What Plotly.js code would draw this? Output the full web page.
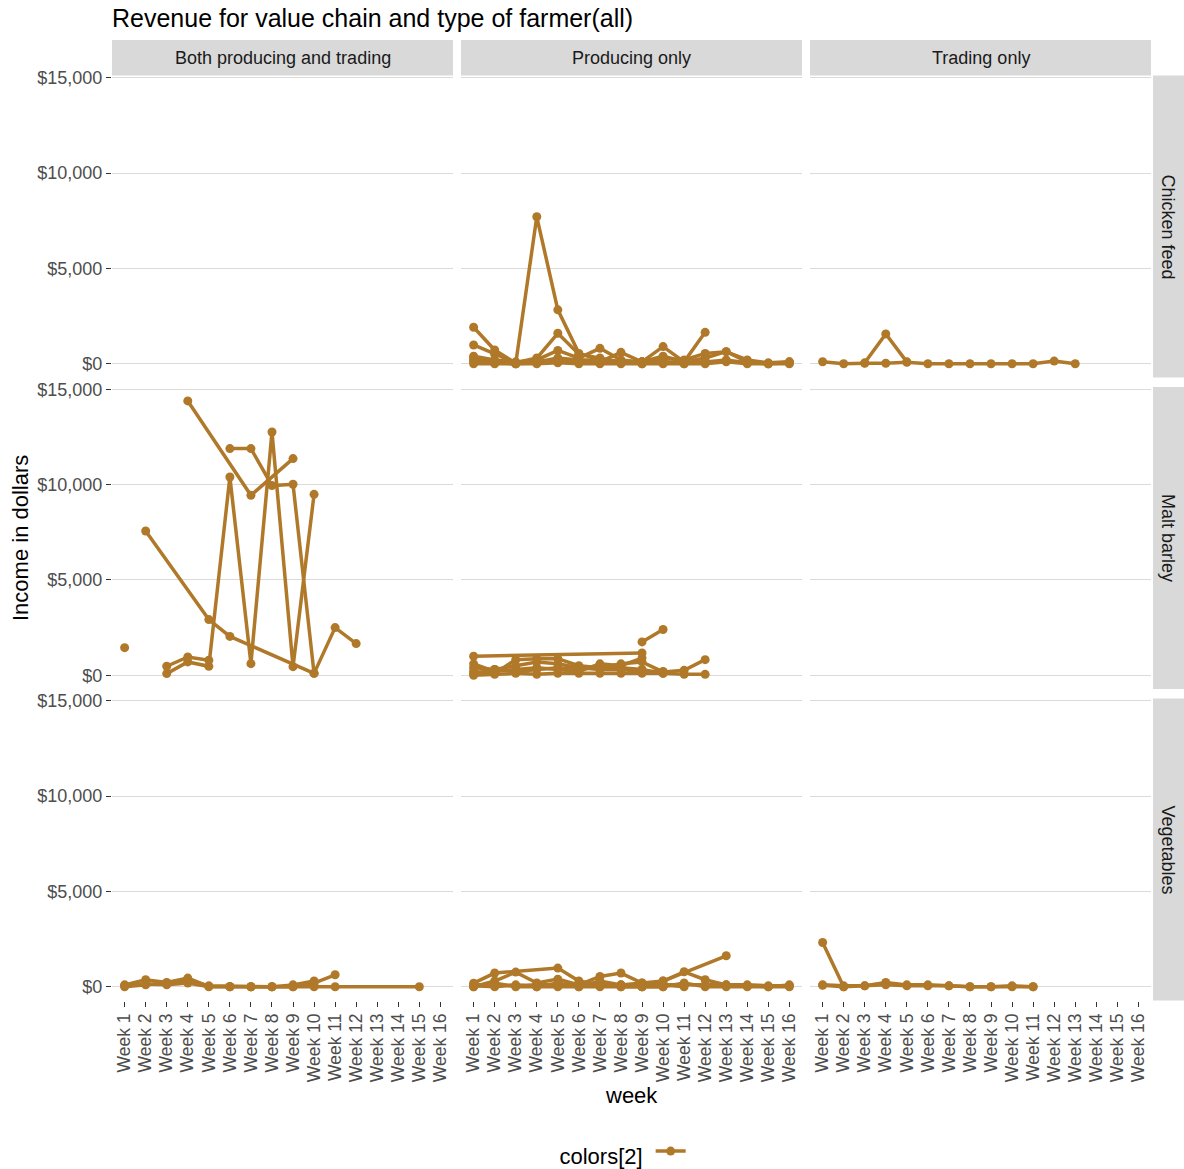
<!DOCTYPE html>
<html>
<head>
<meta charset="utf-8">
<script src="https://cdn.plot.ly/plotly-3.0.1.min.js"></script>
<style>html,body{margin:0;padding:0;background:#fff;}#chart{width:1184px;height:1169px;}</style>
</head>
<body>
<div id="chart"></div>
<script>
// ---------- DATA ----------
const weeks = ["Week 1","Week 2","Week 3","Week 4","Week 5","Week 6","Week 7","Week 8",
               "Week 9","Week 10","Week 11","Week 12","Week 13","Week 14","Week 15","Week 16"];
const farmerTypes = ["Both producing and trading", "Producing only", "Trading only"];
const valueChains = ["Chicken feed", "Malt barley", "Vegetables"];
const yTickVals = [0, 5000, 10000, 15000];
const yTickText = ["$0", "$5,000", "$10,000", "$15,000"];
const n = null;

// Chicken feed
const chickenBoth = [];
const chickenProducing = [
  [1917, 720, 30, n, n, n, n, n, n, n, n, n, n, n, n, n],
  [n, n, 20, 7710, 2830, 545, 200, 100, 50, 20, n, n, n, n, n, n],
  [986, 500, 50, 300, 1600, 500, 300, 100, 0, 100, 0, n, n, n, n, n],
  [400, 200, 100, 200, 700, 300, 810, 200, 100, 400, 100, 300, 634, 100, 0, 100],
  [200, 100, 0, 100, 300, 200, 200, 100, 100, 900, 100, 1650, n, n, n, n],
  [100, 50, 0, 50, 100, 100, 100, 600, 100, 300, 200, 545, 634, 200, 50, 100],
  [0, 0, 0, 0, 50, 0, 0, 0, 0, 0, 0, 0, 100, 0, 0, 0],
  [300, 100, 50, 100, 200, 100, 50, 50, 100, 100, 50, 100, 200, 50, 0, 50]
];
const chickenTrading = [
  [105, 0, 30, 30, 80, 0, 0, 0, 0, 0, 0, 140, 0, n, n, n],
  [n, n, 50, 1568, 100, n, n, n, n, n, n, n, n, n, n, n]
];

// Malt barley
const maltBoth = [
  [1450, n, n, n, n, n, n, n, n, n, n, n, n, n, n, n],
  [n, 7570, n, n, 2920, 2040, n, n, n, 100, n, n, n, n, n, n],
  [n, n, n, 14390, n, n, 9440, n, 11365, n, n, n, n, n, n, n],
  [n, n, n, n, n, 11890, 11890, 9950, 10018, 100, 2500, 1660, n, n, n, n],
  [n, n, 87, 700, 470, 10400, 610, 12760, 450, 9490, n, n, n, n, n, n],
  [n, n, 472, 961, 787, n, n, n, n, n, n, n, n, n, n, n]
];
const maltProducing = [
  [997, n, n, n, n, n, n, n, 1170, n, n, n, n, n, n, n],
  [n, n, n, n, n, n, n, n, 1750, 2400, n, n, n, n, n, n],
  [200, 100, 820, 870, 870, 500, 400, 600, 700, 175, 260, 820, n, n, n, n],
  [100, 300, 200, 300, 400, 300, 500, 400, 300, 100, 50, 50, n, n, n, n],
  [0, 50, 100, 50, 100, 100, 100, 100, 100, 100, n, n, n, n, n, n],
  [400, 300, 500, 700, 600, 400, 300, 300, 200, 200, n, n, n, n, n, n],
  [600, 200, 300, 400, 300, 200, 600, 500, 900, n, n, n, n, n, n, n]
];
const maltTrading = [];

// Vegetables
const vegBoth = [
  [100, 367, 227, 456, 20, 0, 0, 0, 0, 190, 630, n, n, n, n, n],
  [50, 150, 100, 200, 0, 0, 0, 0, 0, 0, 0, n, n, n, 0, n],
  [0, 100, 200, 300, 50, 20, 0, 0, 100, 300, n, n, n, n, n, n]
];
const vegProducing = [
  [190, 720, n, n, 980, 300, 100, 0, 0, 0, n, n, n, n, n, n],
  [0, 300, 770, 200, 400, 100, 540, 720, 200, 100, 0, n, n, n, n, n],
  [n, n, n, n, n, n, n, n, 0, 300, n, n, 1625, n, n, n],
  [100, 100, 50, 100, 100, 100, 100, 100, 100, 100, 100, 100, 100, 100, 50, 50],
  [50, 0, 100, 0, 200, 0, 300, 100, 200, 300, 786, 370, 100, 50, 0, 0],
  [0, 200, 0, 0, 0, 0, 0, 0, 0, 0, 200, 0, 0, 0, 0, 100]
];
const vegTrading = [
  [2325, 0, n, n, n, n, n, n, n, n, n, n, n, n, n, n],
  [100, 50, 50, 227, 100, 100, 50, 0, 0, 0, 0, n, n, n, n, n],
  [80, 0, 50, 100, 50, 50, 50, 0, 0, 50, 0, n, n, n, n, n]
];

const panels = [
  [chickenBoth, chickenProducing, chickenTrading],
  [maltBoth, maltProducing, maltTrading],
  [vegBoth, vegProducing, vegTrading]
];

// ---------- LAYOUT / STYLE ----------
const W = 1184, H = 1169;
const fx = px => px / W;
const fy = py => 1 - py / H;
const colPx = [[112, 453], [461, 802], [810, 1151]];
const rowPx = [[75.5, 377.5], [387, 689], [698.5, 1000.5]];
const lineColor = "#B0792A";
const FONT = "Liberation Sans, Arial, sans-serif";

const traces = [];
let first = true;
const layout = {
  width: W, height: H,
  margin: {l: 0, r: 0, t: 0, b: 0, autoexpand: false},
  paper_bgcolor: "#ffffff",
  plot_bgcolor: "#ffffff",
  font: {family: FONT, color: "#4D4D4D"},
  showlegend: true,
  title: {text: "Revenue for value chain and type of farmer(all)", x: fx(112), xanchor: "left",
          y: fy(18), yanchor: "middle", xref: "paper", yref: "paper",
          font: {family: FONT, size: 25, color: "#000000"}},
  legend: {orientation: "h", x: fx(627), xanchor: "center", y: fy(1155), yanchor: "middle",
           title: {text: "colors[2]", side: "left", font: {family: FONT, size: 22, color: "#000000"}},
           font: {family: FONT, size: 14, color: "#000000"}, itemwidth: 30, bgcolor: "rgba(0,0,0,0)"},
  shapes: [],
  annotations: []
};

for (let r = 0; r < 3; r++) {
  for (let c = 0; c < 3; c++) {
    const idx = r * 3 + c + 1;
    const xa = idx === 1 ? "xaxis" : "xaxis" + idx;
    const ya = idx === 1 ? "yaxis" : "yaxis" + idx;
    const xr = idx === 1 ? "x" : "x" + idx;
    const yr = idx === 1 ? "y" : "y" + idx;
    layout[xa] = {
      domain: [fx(colPx[c][0]), fx(colPx[c][1])],
      anchor: yr,
      type: "category",
      categoryorder: "array",
      categoryarray: weeks,
      range: [-0.6, 15.6],
      showgrid: false, zeroline: false, showline: false,
      ticks: r === 2 ? "outside" : "",
      ticklen: 5, tickcolor: "#333333", tickwidth: 1,
      showticklabels: r === 2,
      tickangle: -90,
      tickfont: {family: FONT, size: 17.5, color: "#4D4D4D"},
      fixedrange: true
    };
    layout[ya] = {
      domain: [fy(rowPx[r][1]), fy(rowPx[r][0])],
      anchor: xr,
      type: "linear",
      range: [-720, 15120],
      tickvals: yTickVals,
      ticktext: yTickText,
      showgrid: true, gridcolor: "#DADADA", gridwidth: 1,
      zeroline: false, showline: false,
      ticks: c === 0 ? "outside" : "",
      ticklen: 5, tickcolor: "#333333", tickwidth: 1,
      showticklabels: c === 0,
      tickfont: {family: FONT, size: 18, color: "#4D4D4D"},
      fixedrange: true
    };
    // placeholder so every panel (even empty) is drawn
    traces.push({type: "scatter", mode: "markers", x: [weeks[0]], y: [null],
                 xaxis: xr, yaxis: yr, showlegend: false, hoverinfo: "skip",
                 marker: {color: "rgba(0,0,0,0)"}});
    const series = panels[r][c];
    series.forEach(vals => {
      const xs = [], ys = [];
      vals.forEach((v, i) => { if (v !== null) { xs.push(weeks[i]); ys.push(v); } });
      traces.push({
        type: "scatter", mode: "lines+markers",
        x: xs, y: ys, xaxis: xr, yaxis: yr,
        line: {color: lineColor, width: 3.5},
        marker: {color: lineColor, size: 9},
        name: "",
        showlegend: first,
        hoverinfo: "skip"
      });
      first = false;
    });
  }
}

// strips
const stripFill = "#D9D9D9";
for (let c = 0; c < 3; c++) {
  layout.shapes.push({type: "rect", xref: "paper", yref: "paper",
    x0: fx(colPx[c][0]), x1: fx(colPx[c][1]), y0: fy(75.5), y1: fy(40),
    fillcolor: stripFill, line: {width: 0}, layer: "below"});
  layout.annotations.push({xref: "paper", yref: "paper",
    x: fx((colPx[c][0] + colPx[c][1]) / 2), y: fy(58), xanchor: "center", yanchor: "middle",
    text: farmerTypes[c], showarrow: false, font: {family: FONT, size: 18, color: "#1A1A1A"}});
}
for (let r = 0; r < 3; r++) {
  layout.shapes.push({type: "rect", xref: "paper", yref: "paper",
    x0: fx(1153), x1: fx(1184), y0: fy(rowPx[r][1]), y1: fy(rowPx[r][0]),
    fillcolor: stripFill, line: {width: 0}, layer: "below"});
  layout.annotations.push({xref: "paper", yref: "paper",
    x: fx(1168), y: fy((rowPx[r][0] + rowPx[r][1]) / 2), xanchor: "center", yanchor: "middle",
    text: valueChains[r], textangle: 90, showarrow: false,
    font: {family: FONT, size: 18, color: "#1A1A1A"}});
}
// axis titles
layout.annotations.push({xref: "paper", yref: "paper", x: fx(631), y: fy(1095),
  xanchor: "center", yanchor: "middle", text: "week", showarrow: false,
  font: {family: FONT, size: 22, color: "#000000"}});
layout.annotations.push({xref: "paper", yref: "paper", x: fx(20), y: fy(538),
  xanchor: "center", yanchor: "middle", text: "Income in dollars", textangle: -90, showarrow: false,
  font: {family: FONT, size: 22, color: "#000000"}});

Plotly.newPlot("chart", traces, layout, {displayModeBar: false, staticPlot: true});
</script>
</body>
</html>
